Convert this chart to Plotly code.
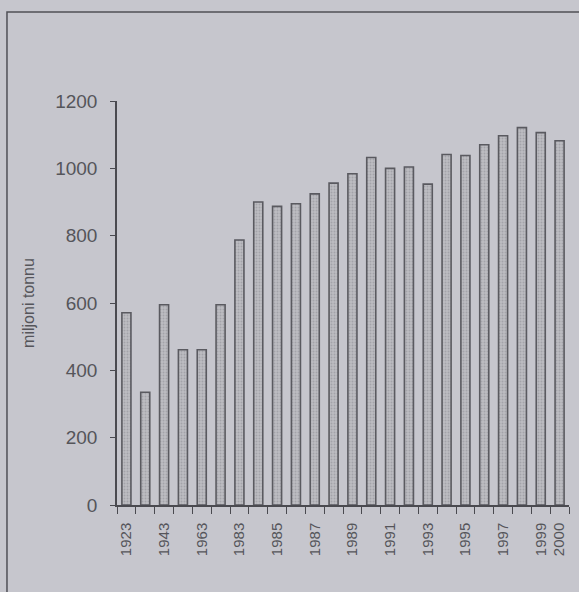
import plotly.graph_objects as go

years = ["1923", "1933", "1943", "1953", "1963", "1973", "1983", "1984", "1985", "1986",
         "1987", "1988", "1989", "1990", "1991", "1992", "1993", "1994", "1995", "1996",
         "1997", "1998", "1999", "2000"]
values = [571, 335, 595, 461, 461, 595, 787, 900, 887, 895,
          924, 956, 984, 1032, 1000, 1004, 953, 1041, 1038, 1070,
          1097, 1121, 1106, 1082]
labeled = ["1923", "1943", "1963", "1983", "1985", "1987", "1989", "1991", "1993",
           "1995", "1997", "1999", "2000"]
tick_text = [y if y in labeled else "" for y in years]
y_ticks = [0, 200, 400, 600, 800, 1000, 1200]

BG = "#c6c6cd"
INK = "#4a4a50"
FONT = "Liberation Sans, Arial, sans-serif"

fig = go.Figure()
fig.add_trace(go.Bar(
    x=years, y=values, width=0.48,
    marker=dict(
        color="#b4b4ba",
        line=dict(color="#5a5a60", width=1.6),
        pattern=dict(shape=".", fgcolor="#8a8a90", bgcolor="#bcbcc2", size=3, solidity=0.35),
    ),
    showlegend=False,
))

fig.update_layout(
    width=579, height=592,
    margin=dict(l=117, r=10, t=101, b=87),
    paper_bgcolor=BG, plot_bgcolor=BG,
    font=dict(family=FONT, color=INK),
    xaxis=dict(
        type="category", range=[-0.5, 23.5],
        tickmode="array", tickvals=years, ticktext=tick_text,
        tickson="boundaries", ticks="outside", ticklen=7, tickcolor=INK, tickwidth=1.2,
        tickangle=-90, tickfont=dict(size=15, color="#55555a"),
        showline=True, linecolor=INK, linewidth=1.5, showgrid=False, zeroline=False,
        ticklabelstandoff=10,
    ),
    yaxis=dict(
        range=[0, 1200], tickmode="array", tickvals=y_ticks,
        ticks="outside", ticklen=5, tickcolor=INK, tickwidth=1.2,
        tickfont=dict(size=19, color="#55555a"),
        showline=True, linecolor=INK, linewidth=1.5, showgrid=False, zeroline=False,
        ticklabelstandoff=9,
        title=dict(text="miljoni tonnu", font=dict(size=16, color="#55555a"), standoff=17),
    ),
    shapes=[dict(type="rect", xref="paper", yref="paper",
                 x0=-0.2434, x1=1.3, y0=-0.5, y1=1.2203,
                 line=dict(color="#505056", width=1.5), fillcolor="rgba(0,0,0,0)", layer="below")],
)

fig.write_html(
    "out.html",
    config={"displayModeBar": False},
    post_script="document.body.style.margin='0';document.body.style.background='%s';"
                "document.body.style.overflow='hidden';" % BG,
)
